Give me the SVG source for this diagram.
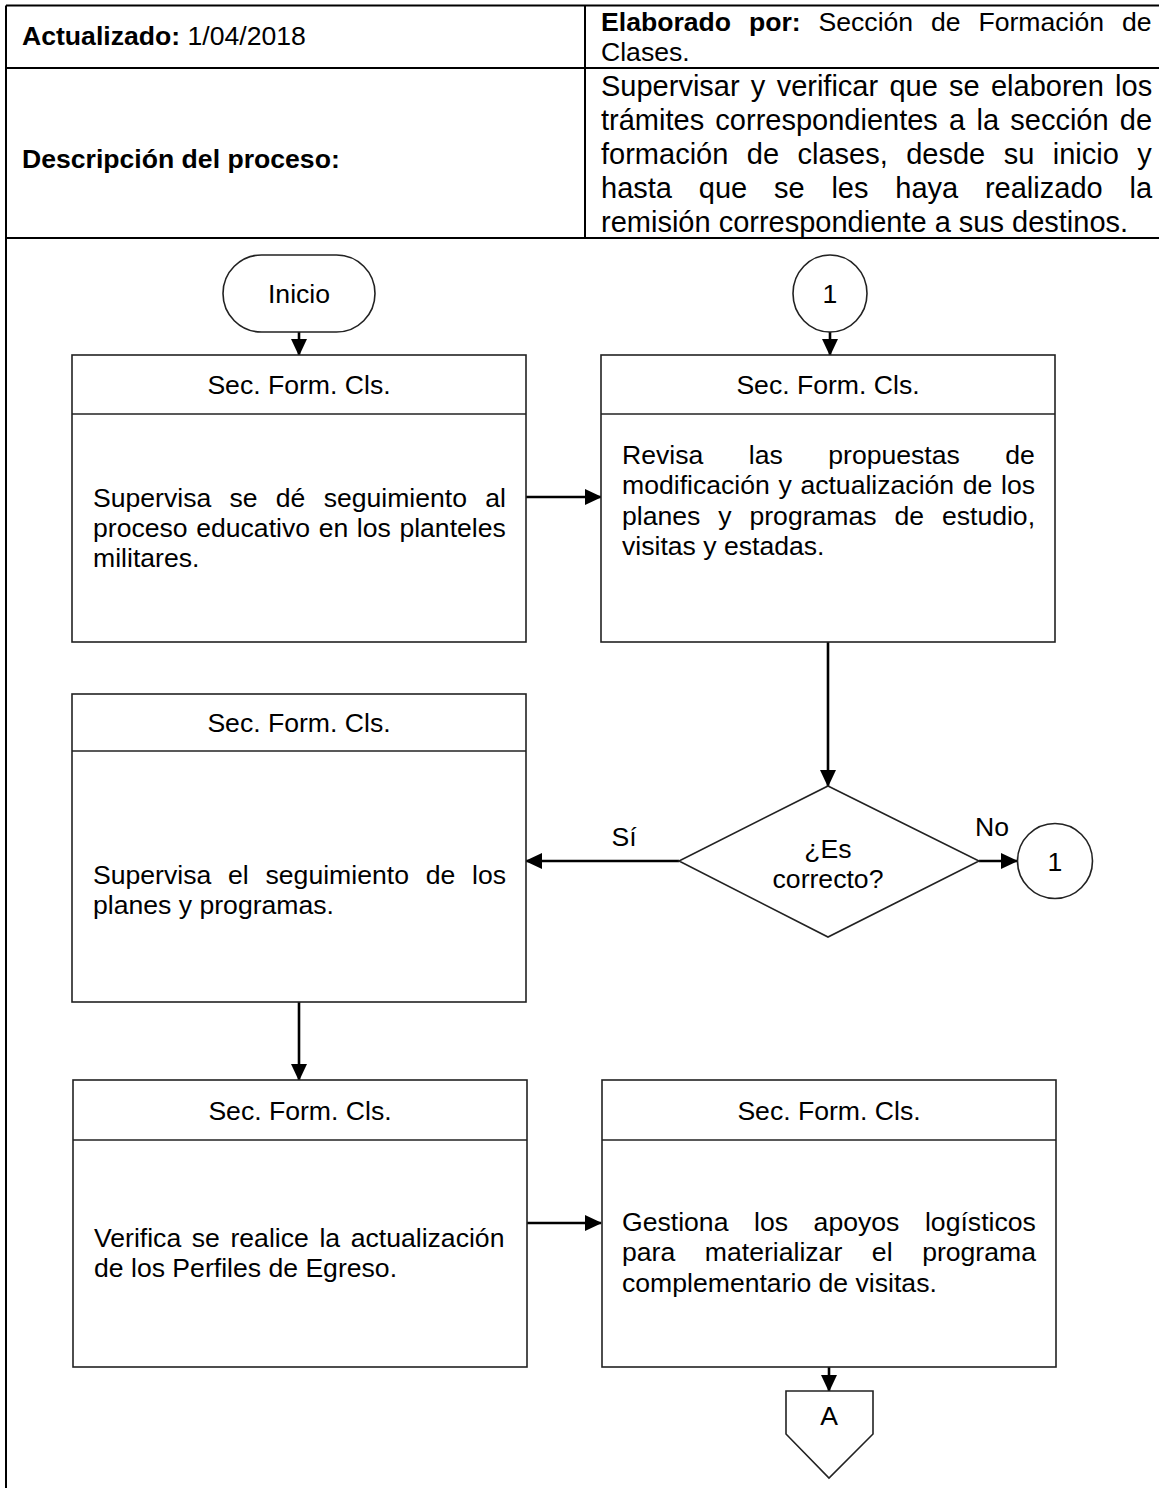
<svg xmlns="http://www.w3.org/2000/svg" width="1159" height="1488" viewBox="0 0 1159 1488">
<style>
text{font-family:"Liberation Sans",Arial,sans-serif;fill:#000}
.t{font-size:26.6px}
.tr{font-size:29px}
.b{font-weight:bold}
.c{text-anchor:middle}
.grid{stroke:#000;stroke-width:2;fill:none}
.box{fill:#fff;stroke:#222;stroke-width:1.6}
.conn{stroke:#000;stroke-width:2.6;fill:none}
</style>
<defs>
<marker id="ah" markerUnits="userSpaceOnUse" markerWidth="18" markerHeight="16" refX="16" refY="8" orient="auto">
<path d="M0,0 L17,8 L0,16 Z" fill="#000"/>
</marker>
</defs>
<g id="table">
<path class="grid" d="M6,5.5 H1159 M6,5.5 V1488 M585,5.5 V238 M6,68 H1159 M6,238 H1159"/>
<text class="t" x="22" y="45"><tspan class="b">Actualizado:</tspan> 1/04/2018</text>
<text class="t" x="601" y="31" word-spacing="10.5"><tspan class="b">Elaborado por:</tspan> Sección de Formación de</text>
<text class="t" x="601" y="61">Clases.</text>
<text class="t b" x="22" y="168">Descripción del proceso:</text>
<text class="tr" x="601" y="96" word-spacing="3.2">Supervisar y verificar que se elaboren los</text>
<text class="tr" x="601" y="130" word-spacing="3.18">trámites correspondientes a la sección de</text>
<text class="tr" x="601" y="164" word-spacing="10.4">formación de clases, desde su inicio y</text>
<text class="tr" x="601" y="198" word-spacing="18.75">hasta que se les haya realizado la</text>
<text class="tr" x="601" y="232">remisión correspondiente a sus destinos.</text>
</g>
<g id="connectors">
<line class="conn" x1="299" y1="332" x2="299" y2="355" marker-end="url(#ah)"/>
<line class="conn" x1="830" y1="332" x2="830" y2="355" marker-end="url(#ah)"/>
<line class="conn" x1="526" y1="497" x2="601" y2="497" marker-end="url(#ah)"/>
<line class="conn" x1="828" y1="642" x2="828" y2="786" marker-end="url(#ah)"/>
<line class="conn" x1="679" y1="861" x2="526" y2="861" marker-end="url(#ah)"/>
<line class="conn" x1="979" y1="861" x2="1017" y2="861" marker-end="url(#ah)"/>
<line class="conn" x1="299" y1="1002" x2="299" y2="1080" marker-end="url(#ah)"/>
<line class="conn" x1="526" y1="1223" x2="601" y2="1223" marker-end="url(#ah)"/>
<line class="conn" x1="829" y1="1367" x2="829" y2="1391" marker-end="url(#ah)"/>
<text class="t c" x="624" y="846">Sí</text>
<text class="t c" x="992" y="836">No</text>
</g>
<g id="inicio">
<rect class="box" x="223" y="255" width="152" height="77" rx="38.5" ry="38.5"/>
<text class="t c" x="299" y="303">Inicio</text>
</g>
<g id="conector1-top">
<ellipse class="box" cx="830" cy="293.5" rx="37" ry="38.5"/>
<text class="t c" x="830" y="303">1</text>
</g>
<g id="box1">
<rect class="box" x="72" y="355" width="454" height="287"/>
<line class="box" x1="72" y1="414" x2="526" y2="414"/>
<text class="t c" x="299" y="394">Sec. Form. Cls.</text>
<text class="t" x="93" y="507" word-spacing="10.85">Supervisa se dé seguimiento al</text>
<text class="t" x="93" y="537" word-spacing="1.2">proceso educativo en los planteles</text>
<text class="t" x="93" y="567">militares.</text>
</g>
<g id="box2">
<rect class="box" x="601" y="355" width="454" height="287"/>
<line class="box" x1="601" y1="414" x2="1055" y2="414"/>
<text class="t c" x="828" y="394">Sec. Form. Cls.</text>
<text class="t" x="622" y="464" word-spacing="38.1">Revisa las propuestas de</text>
<text class="t" x="622" y="494" word-spacing="1.25">modificación y actualización de los</text>
<text class="t" x="622" y="525" word-spacing="10.5">planes y programas de estudio,</text>
<text class="t" x="622" y="555">visitas y estadas.</text>
</g>
<g id="decision">
<polygon class="box" points="828,786 979,861 828,937 679,861"/>
<text class="t c" x="828" y="858">¿Es</text>
<text class="t c" x="828" y="888">correcto?</text>
</g>
<g id="conector1-no">
<circle class="box" cx="1055" cy="861" r="37.5"/>
<text class="t c" x="1055" y="871">1</text>
</g>
<g id="box3">
<rect class="box" x="72" y="694" width="454" height="308"/>
<line class="box" x1="72" y1="751" x2="526" y2="751"/>
<text class="t c" x="299" y="732">Sec. Form. Cls.</text>
<text class="t" x="93" y="884" word-spacing="9.4">Supervisa el seguimiento de los</text>
<text class="t" x="93" y="914">planes y programas.</text>
</g>
<g id="box4">
<rect class="box" x="73" y="1080" width="454" height="287"/>
<line class="box" x1="73" y1="1140" x2="527" y2="1140"/>
<text class="t c" x="300" y="1120">Sec. Form. Cls.</text>
<text class="t" x="94" y="1247" word-spacing="3.2">Verifica se realice la actualización</text>
<text class="t" x="94" y="1277">de los Perfiles de Egreso.</text>
</g>
<g id="box5">
<rect class="box" x="602" y="1080" width="454" height="287"/>
<line class="box" x1="602" y1="1140" x2="1056" y2="1140"/>
<text class="t c" x="829" y="1120">Sec. Form. Cls.</text>
<text class="t" x="622" y="1231" word-spacing="18.2">Gestiona los apoyos logísticos</text>
<text class="t" x="622" y="1261" word-spacing="22.2">para materializar el programa</text>
<text class="t" x="622" y="1292">complementario de visitas.</text>
</g>
<g id="conectorA">
<polygon class="box" points="786,1391 873,1391 873,1434 829,1478 786,1434"/>
<text class="t c" x="829" y="1425">A</text>
</g>
</svg>
